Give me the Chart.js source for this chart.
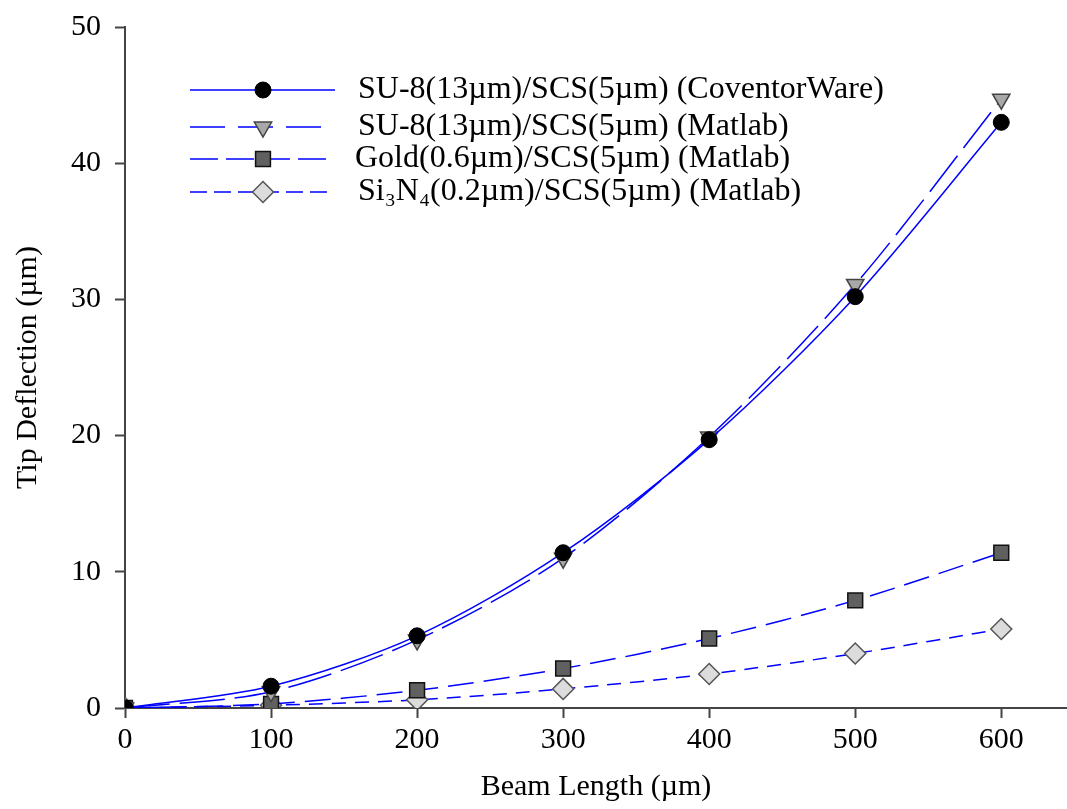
<!DOCTYPE html>
<html>
<head>
<meta charset="utf-8">
<script src="https://cdn.jsdelivr.net/npm/chart.js@4"></script>
<style>
  html, body { margin: 0; padding: 0; background: #fff; }
  #wrap { width: 1067px; height: 809px; }
</style>
</head>
<body>
<div id="wrap"><canvas id="deflectionChart" width="1067" height="809"></canvas></div>
<script>
// longueurs de poutre (µm) et déflexions
const beamLengths = [0, 100, 200, 300, 400, 500, 600];
const su8Coventor = [0, 1.6, 5.3, 11.4, 19.7, 30.2, 43.0];
const su8Matlab = [0, 1.2, 5.0, 11.0, 19.9, 31.1, 44.7];
const goldMatlab = [0, 0.3, 1.3, 2.9, 5.1, 7.9, 11.4];
const si3n4Matlab = [0, 0.2, 0.6, 1.4, 2.5, 4.0, 5.8];
const xTicks = [0, 100, 200, 300, 400, 500, 600];
const yTicks = [0, 10, 20, 30, 40, 50];
const seriesLabels = [
  'SU-8(13µm)/SCS(5µm) (CoventorWare)',
  'SU-8(13µm)/SCS(5µm) (Matlab)',
  'Gold(0.6µm)/SCS(5µm) (Matlab)',
  'Si₃N₄(0.2µm)/SCS(5µm) (Matlab)'
];

const FONT = '"Liberation Serif", "Times New Roman", serif';
const BLUE = '#0000ff';

function toPoints(values) {
  return beamLengths.map((x, i) => ({ x: x, y: values[i] }));
}

const datasets = [
  {
    label: seriesLabels[0], data: toPoints(su8Coventor),
    borderColor: BLUE, borderWidth: 1.5, borderDash: [], legendDash: [],
    pointStyle: 'circle', pointRadius: 8, pointRotation: 0,
    pointBackgroundColor: '#000', pointBorderColor: '#000', pointBorderWidth: 1
  },
  {
    label: seriesLabels[1], data: toPoints(su8Matlab),
    borderColor: BLUE, borderWidth: 1.5, borderDash: [45, 10], legendDash: [35, 13],
    pointStyle: 'triangle', pointRadius: 10, pointRotation: 180,
    pointBackgroundColor: '#a8a8a8', pointBorderColor: '#444', pointBorderWidth: 1.5
  },
  {
    label: seriesLabels[2], data: toPoints(goldMatlab),
    borderColor: BLUE, borderWidth: 1.5, borderDash: [26, 10], legendDash: [28, 8],
    pointStyle: 'rect', pointRadius: 10.5, pointRotation: 0,
    pointBackgroundColor: '#606060', pointBorderColor: '#111', pointBorderWidth: 1.5
  },
  {
    label: seriesLabels[3], data: toPoints(si3n4Matlab),
    borderColor: BLUE, borderWidth: 1.5, borderDash: [14, 9], legendDash: [17, 7],
    pointStyle: 'rectRot', pointRadius: 10.5, pointRotation: 0,
    pointBackgroundColor: '#dcdcdc', pointBorderColor: '#555', pointBorderWidth: 1.5
  }
];
datasets.forEach(d => { d.tension = 0.3; d.fill = false; });

// légende dessinée à la main : trait + marqueur au milieu, comme sur la figure
const legendRows = [90, 127, 159, 192];
const customLegend = {
  id: 'customLegend',
  afterDraw(chart) {
    const ctx = chart.ctx;
    ctx.save();
    chart.data.datasets.forEach((ds, i) => {
      const y = legendRows[i];
      ctx.strokeStyle = ds.borderColor;
      ctx.lineWidth = ds.borderWidth;
      ctx.setLineDash(ds.legendDash);
      ctx.beginPath();
      ctx.moveTo(190, y);
      ctx.lineTo(i === 0 ? 335 : 328, y);
      ctx.stroke();
      ctx.setLineDash([]);
      ctx.fillStyle = ds.pointBackgroundColor;
      ctx.strokeStyle = ds.pointBorderColor;
      ctx.lineWidth = ds.pointBorderWidth;
      Chart.helpers.drawPoint(ctx, {
        pointStyle: ds.pointStyle, radius: ds.pointRadius,
        rotation: ds.pointRotation, borderWidth: ds.pointBorderWidth
      }, 263, y);
      ctx.fillStyle = '#000';
      ctx.font = '32px ' + FONT;
      ctx.textBaseline = 'middle';
      ctx.fillText(ds.label, i === 2 ? 355 : 358, y);
    });
    ctx.restore();
  }
};

const axisColor = '#444';
new Chart(document.getElementById('deflectionChart'), {
  type: 'line',
  data: { datasets: datasets },
  options: {
    responsive: false,
    animation: false,
    layout: { autoPadding: false, padding: { top: 27, right: 0, left: 0, bottom: 0 } },
    plugins: { legend: { display: false }, tooltip: { enabled: false } },
    scales: {
      x: {
        type: 'linear', min: 0, max: 645,
        afterBuildTicks: s => { s.ticks = xTicks.map(v => ({ value: v })); },
        afterFit: s => { s.height = 101; },
        border: { color: axisColor, width: 2 },
        grid: { drawOnChartArea: false, drawTicks: true, tickLength: 10, color: axisColor, tickWidth: 2 },
        ticks: { color: '#000', font: { family: FONT, size: 30 }, padding: 4, maxRotation: 0 },
        title: { display: true, text: 'Beam Length (µm)', color: '#000', font: { family: FONT, size: 30 }, padding: { top: 2 } }
      },
      y: {
        type: 'linear', min: 0, max: 50,
        afterBuildTicks: s => { s.ticks = yTicks.map(v => ({ value: v })); },
        afterFit: s => { s.width = 125; s.paddingTop = 0; s.paddingBottom = 0; },
        border: { color: axisColor, width: 2 },
        grid: { drawOnChartArea: false, drawTicks: true, tickLength: 10, color: axisColor, tickWidth: 2 },
        ticks: { color: '#000', font: { family: FONT, size: 30 }, padding: 14 },
        title: { display: true, text: 'Tip Deflection (µm)', color: '#000', font: { family: FONT, size: 30 }, padding: { top: 10, bottom: 4 } }
      }
    }
  },
  plugins: [customLegend]
});
</script>
</body>
</html>
